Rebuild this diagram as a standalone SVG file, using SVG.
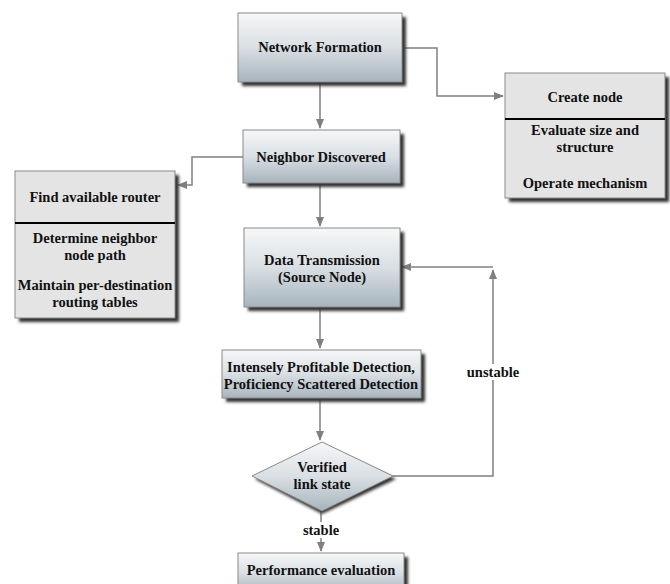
<svg xmlns="http://www.w3.org/2000/svg" width="670" height="584" viewBox="0 0 670 584">
<style>
text{font-family:'Liberation Serif','DejaVu Serif',serif;font-weight:700;font-size:14.5px;fill:#111;text-anchor:middle}
.box{fill:url(#g);stroke:#8a8a8a;stroke-width:1}
.side{fill:#e4e4e4;stroke:#8a8a8a;stroke-width:1}
.div{stroke:#000;stroke-width:2}
.c{fill:none;stroke:#808080;stroke-width:1.5}
.sh{fill:#333;filter:url(#blur)}
</style>
<defs>
<linearGradient id="g" x1="0" y1="0" x2="0" y2="1">
<stop offset="0" stop-color="#f6f7f8"/>
<stop offset="0.5" stop-color="#d9dfe3"/>
<stop offset="1" stop-color="#a7b4bd"/>
</linearGradient>
<filter id="blur" x="-10%" y="-10%" width="130%" height="130%"><feGaussianBlur stdDeviation="1.8"/></filter>
<marker id="a" markerWidth="10" markerHeight="8" refX="9" refY="4" orient="auto" markerUnits="userSpaceOnUse">
<path d="M0,0 L10,4 L0,8 Z" fill="#808080"/>
</marker>
</defs>

<g id="connectors">
<path class="c" d="M402,48 H437 V96 H503" marker-end="url(#a)"/>
<path class="c" d="M320,82 V128" marker-end="url(#a)"/>
<path class="c" d="M243,157 H192 V185 H178" marker-end="url(#a)"/>
<path class="c" d="M320,183 V226" marker-end="url(#a)"/>
<path class="c" d="M320,307 V348" marker-end="url(#a)"/>
<path class="c" d="M320,398 V440" marker-end="url(#a)"/>
<path class="c" d="M393,476 H493 V270" marker-end="url(#a)"/>
<path class="c" d="M493,267 H402" marker-end="url(#a)"/>
<path class="c" d="M321,511 V551" marker-end="url(#a)"/>
<rect x="300" y="522" width="42" height="16" fill="#fff"/>
<text x="321" y="535">stable</text>
<rect x="465" y="364" width="56" height="16" fill="#fff"/>
<text x="493" y="377">unstable</text>
</g>

<g id="network-formation">
<rect class="sh" x="242" y="17" width="164" height="69"/>
<rect class="box" x="238" y="13" width="164" height="69"/>
<text x="320" y="52">Network Formation</text>
</g>

<g id="create-node">
<rect class="sh" x="509" y="77" width="160" height="125"/>
<rect class="side" x="505" y="73" width="160" height="125"/>
<line class="div" x1="505" y1="119" x2="665" y2="119"/>
<text x="585" y="102">Create node</text>
<text x="585" y="135">Evaluate size and</text>
<text x="585" y="152">structure</text>
<text x="585" y="188">Operate mechanism</text>
</g>

<g id="neighbor-discovered">
<rect class="sh" x="247" y="134" width="157" height="53"/>
<rect class="box" x="243" y="130" width="157" height="53"/>
<text x="321" y="162">Neighbor Discovered</text>
</g>

<g id="find-router">
<rect class="sh" x="19" y="175" width="160" height="147"/>
<rect class="side" x="15" y="171" width="160" height="147"/>
<line class="div" x1="15" y1="223" x2="175" y2="223"/>
<text x="95" y="202">Find available router</text>
<text x="95" y="243">Determine neighbor</text>
<text x="95" y="260">node path</text>
<text x="95" y="290">Maintain per-destination</text>
<text x="95" y="307">routing tables</text>
</g>

<g id="data-transmission">
<rect class="sh" x="248" y="232" width="156" height="79"/>
<rect class="box" x="244" y="228" width="156" height="79"/>
<text x="322" y="265">Data Transmission</text>
<text x="322" y="282">(Source Node)</text>
</g>

<g id="detection">
<rect class="sh" x="226" y="354" width="199" height="48"/>
<rect class="box" x="222" y="350" width="199" height="48"/>
<text x="321" y="372">Intensely Profitable Detection,</text>
<text x="321" y="389">Proficiency Scattered Detection</text>
</g>

<g id="verified">
<path class="sh" d="M322,445 L396,479 L322,514 L255,479 Z"/>
<path class="box" d="M322,442 L393,476 L322,511 L252,476 Z"/>
<text x="322" y="472">Verified</text>
<text x="322" y="489">link state</text>
</g>

<g id="performance">
<rect class="sh" x="242" y="557" width="166" height="40"/>
<rect class="box" x="238" y="553" width="166" height="40"/>
<text x="321" y="575">Performance evaluation</text>
</g>
</svg>
